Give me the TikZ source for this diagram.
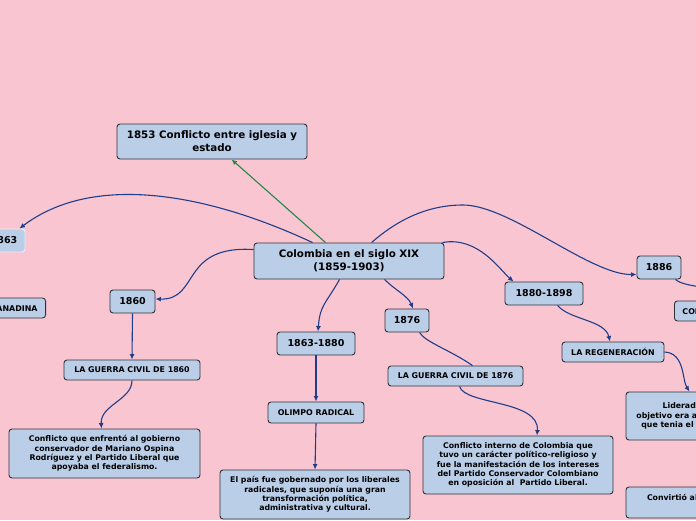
\documentclass[tikz,border=0pt]{standalone}
\usepackage{fontspec}
\setmainfont{DejaVu Sans}
\usetikzlibrary{arrows.meta,calc}
\definecolor{bg}{RGB}{249,197,209}
\definecolor{boxfill}{RGB}{186,206,232}
\definecolor{boxline}{RGB}{50,50,55}
\definecolor{link}{RGB}{30,62,140}
\definecolor{greenlink}{RGB}{35,135,75}
\tikzset{
  box/.style={draw=boxline, fill=boxfill, rounded corners=3pt, line width=0.9pt, align=center, inner sep=0pt},
  big/.style={box, font=\bfseries\fontsize{10.3}{13}\selectfont},
  year/.style={box, font=\bfseries\fontsize{9.5}{12}\selectfont},
  caps/.style={box, font=\bfseries\fontsize{7.9}{9}\selectfont},
  para/.style={box, font=\bfseries\fontsize{7.8}{9.4}\selectfont},
  conn/.style={draw=link, line width=1.1pt, -{Latex[length=5.5pt,width=5pt]}},
  plain/.style={draw=link, line width=1.1pt},
  gconn/.style={draw=greenlink, line width=1.1pt, -{Latex[length=5.5pt,width=5pt]}},
}
\begin{document}
\begin{tikzpicture}[x=1pt,y=-1pt]
\useasboundingbox (0,0) rectangle (696,520);
\clip (0,0) rectangle (696,520);
\fill[bg] (0,0) rectangle (696,520);

\node[big, minimum width=190pt, minimum height=36pt] (c) at (349,261) {Colombia en el siglo XIX\\(1859-1903)};
\node[big, minimum width=190pt, minimum height=35pt] (t1853) at (212,141.5) {1853 Conflicto entre iglesia y\\estado};
\node[year, draw=white!70!boxfill, minimum width=42pt, minimum height=23pt] (n1863) at (4,240.5) {1863};
\node[caps, anchor=east, inner xsep=8pt, minimum height=20pt] (gran) at (46,308) {LA CONFEDERACIÓN GRANADINA};
\node[year, minimum width=45pt, minimum height=23pt] (n1860) at (132.5,301.5) {1860};
\node[caps, minimum width=136pt, minimum height=20pt] (g1860) at (132,370) {LA GUERRA CIVIL DE 1860};
\node[para, minimum width=191pt, minimum height=49pt] (c1860) at (104.5,453.5) {Conflicto que enfrentó al gobierno\\conservador de Mariano Ospina\\Rodríguez y el Partido Liberal que\\apoyaba el federalismo.};
\node[year, minimum width=78pt, minimum height=23pt] (n1863b) at (316,343.5) {1863-1880};
\node[caps, minimum width=96pt, minimum height=21pt] (olimpo) at (316,412.5) {OLIMPO RADICAL};
\node[para, minimum width=190pt, minimum height=49pt] (pais) at (315,494.5) {El país fue gobernado por los liberales\\radicales, que suponía una gran\\transformación política,\\administrativa y cultural.};
\node[year, minimum width=44pt, minimum height=23pt] (n1876) at (407,320.5) {1876};
\node[caps, minimum width=135pt, minimum height=20pt] (g1876) at (455.5,376) {LA GUERRA CIVIL DE 1876};
\node[para, minimum width=190pt, minimum height=58pt] (c1876) at (518,465) {Conflicto interno de Colombia que\\tuvo un carácter político-religioso y\\fue la manifestación de los intereses\\del Partido Conservador Colombiano\\en oposición al\ \ Partido Liberal.};
\node[year, minimum width=78pt, minimum height=23pt] (n1880) at (544,293.5) {1880-1898};
\node[caps, minimum width=102pt, minimum height=20pt] (regen) at (613,352) {LA REGENERACIÓN};
\node[year, minimum width=44pt, minimum height=23pt] (n1886) at (659,267.5) {1886};
\node[caps, anchor=west, inner xsep=8pt, minimum height=20pt] (con) at (674,311) {CONSTITUCIÓN DE 1886};
\node[para, minimum width=190pt, minimum height=48pt] (lid) at (721,416) {Liderada por Rafael Núñez\\objetivo era acabar con el federalismo\\que tenia el país desde el año 1863.};
\node[para, minimum width=190pt, minimum height=31pt] (conv) at (721,502.5) {Convirtió al país en una república\\unitaria.};

% connectors
\draw[gconn] ($(c.north west)+(72,0)$) -- ($(t1853.south west)+(115,0)$);
\draw[conn] ($(c.north west)+(59,0)$) .. controls (200,190) and (90,175) .. ($(n1863.north east)+(-6,0)$);
\draw[conn] ($(c.north west)+(0,7)$) .. controls (180,245) and (200,300) .. ($(n1860.east)+(0,-2.5)$);
\draw[conn] ($(c.south west)+(86,0)$) .. controls (325,305) and (320,305) .. ($(n1863b.north)+(2,0)$);
\draw[conn] ($(c.south west)+(131,0)$) .. controls (395,290) and (408,296) .. ($(n1876.north)+(6,0)$);
\draw[conn] ($(c.north east)+(-2,0)$) .. controls (478,236) and (500,270) .. ($(n1880.north west)+(9,0)$);
\draw[conn] ($(c.north west)+(118,0)$) .. controls (395,222) and (425,205) .. (463,205) .. controls (510,205) and (590,275) .. ($(n1886.west)+(0,7)$);
\draw[conn] (n1860.south) -- (g1860.north);
\draw[conn] (g1860.south) .. controls (132,400) and (100,405) .. ($(c1860.north)+(-3,0)$);
\draw[conn] (n1863b.south) -- (olimpo.north);
\draw[conn] (olimpo.south) -- (pais.north);
\draw[plain] ($(n1876.south west)+(35,0)$) .. controls (425,342) and (450,350) .. ($(g1876.north west)+(85,0)$);
\draw[conn] ($(g1876.south west)+(72,0)$) .. controls (465,405) and (540,400) .. ($(c1876.north)+(19,0)$);
\draw[conn] ($(n1880.south west)+(53,0)$) .. controls (570,320) and (605,320) .. ($(regen.north)+(-3,0)$);
\draw[conn] ($(n1886.south east)+(-6,0)$) .. controls (685,288) and (715,285) .. ($(con.north west)+(46,0)$);
\draw[conn] (regen.east) .. controls (685,353) and (682,380) .. ($(lid.north west)+(64,0)$);
\end{tikzpicture}
\end{document}
